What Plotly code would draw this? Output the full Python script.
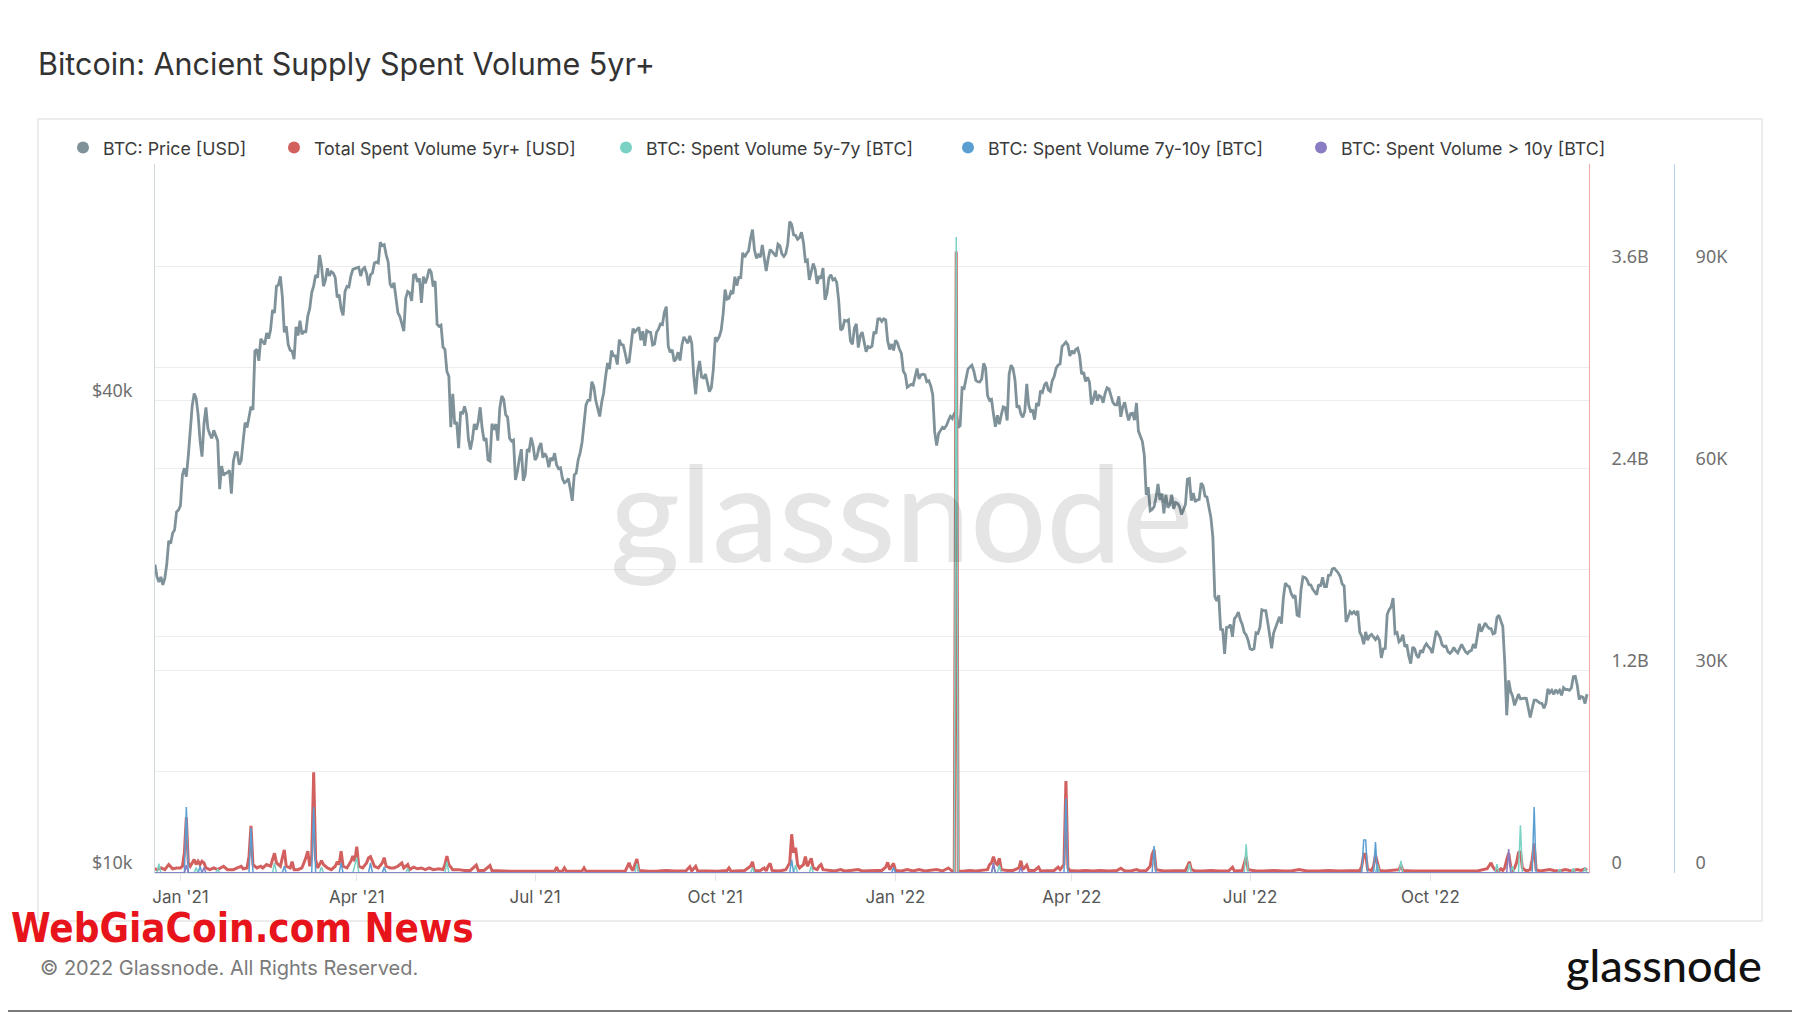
import math
import pandas as pd
import plotly.graph_objects as go

TITLE = "Bitcoin: Ancient Supply Spent Volume 5yr+"
NAMES = ["BTC: Price [USD]", "Total Spent Volume 5yr+ [USD]",
         "BTC: Spent Volume 5y-7y [BTC]", "BTC: Spent Volume 7y-10y [BTC]",
         "BTC: Spent Volume > 10y [BTC]"]
COLORS = ["#7f9299", "#d1605e", "#79d2c4", "#5b9fd2", "#8a7cc2"]

# ---- BTC price, daily, in $k (month lists) ----
PRICE_2020_12 = [23.87, 24.69, 23.85, 23.48, 23.83, 23.28, 23.73, 24.71, 26.49, 26.28, 27.08, 27.36, 28.84, 29.00]
PRICE_2021_01 = [29.37, 32.13, 32.78, 31.97, 33.99, 36.82, 39.37, 40.80, 40.25, 38.35, 35.54, 33.92, 37.32, 39.19, 36.82, 36.18, 35.79, 36.63, 36.07, 35.54, 30.83, 32.99, 32.10, 32.29, 32.37, 32.57, 30.43, 33.47, 34.32, 34.32, 33.11]
PRICE_2021_02 = [33.54, 35.51, 37.47, 36.93, 38.14, 39.27, 38.90, 46.20, 46.48, 44.92, 47.91, 47.50, 47.11, 48.72, 47.94, 49.20, 52.15, 51.68, 55.89, 56.10, 57.53, 54.21, 48.82, 49.71, 47.09, 46.34, 46.19, 45.14]
PRICE_2021_03 = [49.63, 48.38, 50.54, 48.56, 48.93, 48.91, 51.21, 52.38, 54.88, 55.96, 57.77, 57.33, 61.24, 59.30, 55.90, 56.89, 58.91, 57.63, 58.35, 58.09, 57.35, 54.10, 54.53, 52.30, 51.32, 55.03, 55.86, 55.78, 57.63, 58.73, 58.92]
PRICE_2021_04 = [58.99, 59.10, 57.60, 58.76, 59.05, 58.02, 56.01, 57.81, 58.09, 59.85, 60.00, 59.86, 63.58, 62.96, 63.16, 61.33, 60.06, 56.27, 55.70, 56.47, 53.91, 51.70, 51.15, 50.11, 49.00, 54.02, 55.03, 54.82, 53.56, 57.75]
PRICE_2021_05 = [57.83, 56.63, 57.21, 53.24, 57.49, 56.39, 57.36, 58.80, 58.23, 55.86, 56.75, 49.99, 49.71, 49.88, 46.76, 46.45, 43.54, 42.91, 36.98, 40.78, 37.30, 37.53, 34.77, 38.71, 38.40, 39.29, 38.44, 35.70, 34.62, 35.68, 37.33]
PRICE_2021_06 = [36.69, 37.57, 39.19, 36.85, 35.52, 35.80, 33.59, 33.47, 37.35, 36.69, 37.31, 35.55, 39.10, 40.52, 40.14, 38.35, 38.05, 35.79, 35.48, 35.60, 31.68, 32.50, 33.69, 34.66, 31.60, 32.16, 34.65, 34.50, 35.87, 35.04]
PRICE_2021_07 = [33.57, 33.90, 34.84, 35.29, 33.80, 34.23, 33.86, 32.88, 33.81, 33.51, 34.26, 33.09, 32.73, 32.82, 31.78, 31.42, 31.53, 31.80, 30.84, 29.79, 32.14, 32.31, 33.58, 34.29, 35.38, 37.27, 39.46, 40.01, 40.03, 42.24, 41.63]
PRICE_2021_08 = [39.97, 39.20, 38.15, 39.74, 40.87, 42.83, 44.63, 43.83, 46.29, 45.60, 45.58, 44.43, 47.79, 47.10, 47.05, 45.94, 44.69, 44.80, 46.72, 49.34, 48.90, 49.32, 49.55, 47.71, 48.99, 46.94, 49.06, 48.90, 48.83, 47.05, 47.17]
PRICE_2021_09 = [48.85, 49.28, 50.03, 49.94, 51.77, 52.66, 46.86, 46.05, 46.40, 44.85, 45.16, 46.06, 44.96, 47.09, 48.18, 47.78, 47.29, 48.33, 47.26, 43.01, 40.72, 43.58, 44.89, 42.84, 42.72, 43.21, 42.24, 41.03, 41.52, 43.79]
PRICE_2021_10 = [48.12, 47.71, 48.20, 49.11, 51.51, 55.36, 53.81, 53.97, 54.97, 54.66, 57.47, 56.01, 57.37, 57.35, 61.67, 60.88, 61.53, 62.01, 64.28, 66.00, 62.21, 60.69, 61.29, 60.86, 63.08, 60.33, 58.46, 60.62, 62.23, 61.89, 61.32]
PRICE_2021_11 = [61.00, 63.23, 62.94, 61.45, 61.00, 61.53, 63.33, 67.57, 66.97, 64.98, 64.86, 64.16, 64.47, 65.47, 63.56, 60.16, 60.37, 56.94, 58.12, 59.76, 58.73, 56.29, 57.57, 57.16, 58.96, 53.73, 54.72, 57.27, 57.81, 56.95]
PRICE_2021_12 = [57.18, 56.48, 53.60, 49.15, 49.40, 50.58, 50.47, 50.64, 47.59, 47.14, 49.39, 50.05, 46.70, 48.34, 48.86, 47.63, 46.13, 46.83, 46.68, 46.88, 48.93, 48.63, 50.78, 50.82, 50.43, 50.81, 50.64, 47.59, 46.44, 47.18, 46.31]
PRICE_2022_01 = [47.69, 47.34, 46.46, 45.90, 43.57, 43.15, 41.56, 41.73, 41.91, 41.82, 42.74, 43.92, 42.59, 43.10, 43.18, 43.11, 42.25, 42.37, 41.74, 40.68, 36.46, 35.03, 36.28, 36.65, 36.95, 36.85, 37.14, 37.71, 38.17, 37.92, 38.48]
PRICE_2022_02 = [38.74, 36.95, 37.15, 41.50, 41.41, 42.41, 43.84, 44.12, 44.34, 43.57, 42.41, 42.24, 42.20, 42.59, 44.58, 43.96, 40.54, 40.00, 40.12, 38.43, 37.02, 38.29, 37.30, 38.33, 39.23, 39.14, 37.71, 43.19]
PRICE_2022_03 = [44.35, 43.92, 42.45, 39.15, 39.40, 38.42, 38.06, 38.74, 41.98, 39.44, 38.73, 38.81, 37.79, 39.67, 39.34, 41.14, 40.95, 41.80, 42.19, 41.25, 41.08, 42.36, 42.89, 43.96, 44.35, 44.50, 46.82, 47.13, 47.46, 47.06, 45.54]
PRICE_2022_04 = [46.28, 45.86, 46.45, 46.62, 45.56, 43.20, 43.45, 42.29, 42.78, 42.21, 39.52, 40.13, 41.15, 39.94, 40.55, 40.41, 39.72, 40.83, 41.50, 41.37, 40.53, 39.74, 39.48, 39.47, 40.46, 38.12, 39.24, 39.77, 38.61, 37.71]
PRICE_2022_05 = [38.47, 38.53, 37.75, 39.69, 36.55, 36.01, 35.47, 34.06, 30.30, 31.02, 28.94, 29.05, 29.28, 30.10, 31.31, 29.87, 30.42, 28.72, 30.31, 29.20, 29.43, 30.32, 29.10, 29.65, 29.56, 29.27, 28.63, 29.03, 29.47, 31.73, 31.80]
PRICE_2022_06 = [29.80, 30.47, 29.70, 29.86, 29.91, 31.37, 31.13, 30.21, 30.11, 29.08, 28.36, 26.76, 22.49, 22.21, 22.58, 20.38, 20.47, 19.02, 20.55, 20.57, 20.72, 19.99, 21.09, 21.23, 21.50, 21.03, 20.73, 20.25, 20.10, 19.78]
PRICE_2022_07 = [19.30, 19.25, 19.30, 20.23, 20.19, 20.55, 21.64, 21.59, 21.59, 20.86, 19.97, 19.33, 20.21, 20.57, 20.83, 21.20, 20.78, 22.43, 23.40, 23.23, 23.16, 22.68, 22.45, 22.58, 21.31, 21.25, 22.95, 23.84, 23.80, 23.65, 23.30]
PRICE_2022_08 = [23.27, 22.98, 22.82, 22.62, 23.31, 23.18, 23.81, 23.16, 23.16, 23.95, 23.96, 24.40, 24.44, 24.31, 24.11, 23.86, 23.34, 23.21, 20.88, 21.17, 21.53, 21.40, 21.53, 21.37, 21.57, 20.26, 20.04, 19.56, 20.28, 19.80, 20.05]
PRICE_2022_09 = [20.13, 19.95, 19.83, 20.00, 19.80, 18.79, 19.29, 19.32, 21.36, 21.65, 21.83, 22.40, 20.18, 20.24, 19.70, 19.80, 20.11, 19.42, 19.54, 18.88, 18.48, 19.40, 19.30, 18.93, 18.80, 19.22, 19.08, 19.41, 19.59, 19.42]
PRICE_2022_10 = [19.31, 19.06, 19.63, 20.34, 20.16, 19.96, 19.53, 19.42, 19.45, 19.14, 19.05, 19.16, 19.38, 19.18, 19.07, 19.27, 19.55, 19.33, 19.13, 19.04, 19.17, 19.21, 19.57, 19.33, 20.09, 20.77, 20.29, 20.60, 20.81, 20.63, 20.49]
PRICE_2022_11 = [20.48, 20.16, 20.21, 21.15, 21.30, 20.92, 20.60, 18.54, 15.88, 17.59, 17.04, 16.80, 16.35, 16.62, 16.90, 16.66, 16.69, 16.70, 16.69, 16.28, 15.78, 16.20, 16.60, 16.60, 16.52, 16.46, 16.44, 16.21, 16.44, 17.16]
PRICE_2022_12 = [16.97, 17.09, 16.89, 17.11, 16.97, 17.09, 16.84, 17.22, 17.13, 17.13, 17.09, 17.21, 17.78, 17.80, 17.35, 16.63, 16.78, 16.74, 16.44, 16.90]

PRICE_MONTHS = [
    ("2020-12-18", PRICE_2020_12), ("2021-01-01", PRICE_2021_01), ("2021-02-01", PRICE_2021_02),
    ("2021-03-01", PRICE_2021_03), ("2021-04-01", PRICE_2021_04), ("2021-05-01", PRICE_2021_05),
    ("2021-06-01", PRICE_2021_06), ("2021-07-01", PRICE_2021_07), ("2021-08-01", PRICE_2021_08),
    ("2021-09-01", PRICE_2021_09), ("2021-10-01", PRICE_2021_10), ("2021-11-01", PRICE_2021_11),
    ("2021-12-01", PRICE_2021_12), ("2022-01-01", PRICE_2022_01), ("2022-02-01", PRICE_2022_02),
    ("2022-03-01", PRICE_2022_03), ("2022-04-01", PRICE_2022_04), ("2022-05-01", PRICE_2022_05),
    ("2022-06-01", PRICE_2022_06), ("2022-07-01", PRICE_2022_07), ("2022-08-01", PRICE_2022_08),
    ("2022-09-01", PRICE_2022_09), ("2022-10-01", PRICE_2022_10), ("2022-11-01", PRICE_2022_11),
    ("2022-12-01", PRICE_2022_12),
]

# ---- Total spent volume 5yr+ in USD (billions) ----
RED_SPENT_USD_B = [
    ("2020-12-18", 0.03), ("2020-12-20", 0.02), ("2020-12-22", 0.03), ("2020-12-24", 0.02), ("2020-12-26", 0.05),
    ("2020-12-28", 0.025), ("2020-12-30", 0.03), ("2021-01-01", 0.03), ("2021-01-02", 0.04), ("2021-01-03", 0.12),
    ("2021-01-04", 0.33), ("2021-01-05", 0.06), ("2021-01-06", 0.04), ("2021-01-08", 0.08), ("2021-01-09", 0.05),
    ("2021-01-10", 0.07), ("2021-01-11", 0.05), ("2021-01-12", 0.07), ("2021-01-13", 0.06), ("2021-01-14", 0.03),
    ("2021-01-16", 0.02), ("2021-01-18", 0.03), ("2021-01-20", 0.02), ("2021-01-23", 0.04), ("2021-01-25", 0.02),
    ("2021-01-28", 0.02), ("2021-01-30", 0.03), ("2021-02-01", 0.04), ("2021-02-02", 0.025), ("2021-02-04", 0.03),
    ("2021-02-05", 0.10), ("2021-02-06", 0.28), ("2021-02-07", 0.05), ("2021-02-09", 0.03), ("2021-02-11", 0.04),
    ("2021-02-12", 0.03), ("2021-02-14", 0.05), ("2021-02-16", 0.04), ("2021-02-17", 0.08), ("2021-02-18", 0.117),
    ("2021-02-19", 0.06), ("2021-02-21", 0.04), ("2021-02-22", 0.09), ("2021-02-23", 0.137), ("2021-02-24", 0.04),
    ("2021-02-26", 0.03), ("2021-02-27", 0.067), ("2021-02-28", 0.02), ("2021-03-02", 0.02), ("2021-03-04", 0.03),
    ("2021-03-06", 0.09), ("2021-03-07", 0.13), ("2021-03-08", 0.04), ("2021-03-09", 0.10), ("2021-03-10", 0.598),
    ("2021-03-11", 0.08), ("2021-03-12", 0.03), ("2021-03-13", 0.05), ("2021-03-14", 0.073), ("2021-03-15", 0.05),
    ("2021-03-17", 0.03), ("2021-03-19", 0.02), ("2021-03-21", 0.04), ("2021-03-22", 0.067), ("2021-03-23", 0.05),
    ("2021-03-24", 0.13), ("2021-03-25", 0.04), ("2021-03-27", 0.03), ("2021-03-29", 0.07), ("2021-03-30", 0.10),
    ("2021-03-31", 0.07), ("2021-04-01", 0.156), ("2021-04-02", 0.04), ("2021-04-04", 0.03), ("2021-04-06", 0.06),
    ("2021-04-07", 0.09), ("2021-04-08", 0.097), ("2021-04-09", 0.07), ("2021-04-10", 0.04), ("2021-04-12", 0.03),
    ("2021-04-14", 0.06), ("2021-04-15", 0.091), ("2021-04-16", 0.04), ("2021-04-18", 0.03), ("2021-04-20", 0.03),
    ("2021-04-22", 0.04), ("2021-04-24", 0.06), ("2021-04-25", 0.03), ("2021-04-27", 0.05), ("2021-04-28", 0.02),
    ("2021-04-30", 0.035), ("2021-05-02", 0.025), ("2021-05-04", 0.03), ("2021-05-06", 0.02), ("2021-05-08", 0.03),
    ("2021-05-10", 0.02), ("2021-05-13", 0.025), ("2021-05-15", 0.02), ("2021-05-16", 0.05), ("2021-05-17", 0.10),
    ("2021-05-18", 0.05), ("2021-05-20", 0.02), ("2021-05-23", 0.02), ("2021-05-26", 0.015), ("2021-05-29", 0.015),
    ("2021-06-01", 0.047), ("2021-06-02", 0.015), ("2021-06-05", 0.015), ("2021-06-08", 0.044), ("2021-06-09", 0.015),
    ("2021-06-13", 0.012), ("2021-06-18", 0.01), ("2021-06-23", 0.01), ("2021-06-28", 0.01), ("2021-07-03", 0.008),
    ("2021-07-08", 0.01), ("2021-07-11", 0.01), ("2021-07-12", 0.034), ("2021-07-13", 0.01), ("2021-07-15", 0.01),
    ("2021-07-16", 0.03), ("2021-07-17", 0.01), ("2021-07-22", 0.01), ("2021-07-25", 0.012), ("2021-07-26", 0.03),
    ("2021-07-27", 0.01), ("2021-08-02", 0.01), ("2021-08-06", 0.012), ("2021-08-08", 0.01), ("2021-08-16", 0.01),
    ("2021-08-18", 0.06), ("2021-08-19", 0.03), ("2021-08-20", 0.015), ("2021-08-21", 0.05), ("2021-08-22", 0.083),
    ("2021-08-23", 0.015), ("2021-08-28", 0.01), ("2021-09-02", 0.012), ("2021-09-06", 0.015), ("2021-09-10", 0.012),
    ("2021-09-16", 0.012), ("2021-09-18", 0.038), ("2021-09-19", 0.012), ("2021-09-21", 0.04), ("2021-09-22", 0.012),
    ("2021-09-27", 0.012), ("2021-10-02", 0.01), ("2021-10-07", 0.015), ("2021-10-08", 0.03), ("2021-10-09", 0.01),
    ("2021-10-13", 0.012), ("2021-10-16", 0.015), ("2021-10-19", 0.04), ("2021-10-20", 0.067), ("2021-10-21", 0.012),
    ("2021-10-24", 0.015), ("2021-10-26", 0.03), ("2021-10-27", 0.012), ("2021-10-28", 0.04), ("2021-10-29", 0.057),
    ("2021-10-30", 0.015), ("2021-11-02", 0.012), ("2021-11-04", 0.015), ("2021-11-06", 0.02), ("2021-11-08", 0.06),
    ("2021-11-09", 0.23), ("2021-11-10", 0.12), ("2021-11-11", 0.15), ("2021-11-12", 0.05), ("2021-11-13", 0.03),
    ("2021-11-15", 0.05), ("2021-11-16", 0.097), ("2021-11-17", 0.04), ("2021-11-18", 0.06), ("2021-11-19", 0.087),
    ("2021-11-20", 0.03), ("2021-11-22", 0.02), ("2021-11-23", 0.04), ("2021-11-24", 0.05), ("2021-11-25", 0.02),
    ("2021-11-28", 0.015), ("2021-12-01", 0.012), ("2021-12-04", 0.02), ("2021-12-06", 0.012), ("2021-12-09", 0.015),
    ("2021-12-13", 0.02), ("2021-12-15", 0.012), ("2021-12-18", 0.015), ("2021-12-22", 0.015), ("2021-12-25", 0.015),
    ("2021-12-27", 0.035), ("2021-12-28", 0.063), ("2021-12-29", 0.02), ("2021-12-31", 0.057), ("2022-01-01", 0.015),
    ("2022-01-04", 0.012), ("2022-01-07", 0.02), ("2022-01-10", 0.012), ("2022-01-13", 0.02), ("2022-01-16", 0.012),
    ("2022-01-20", 0.015), ("2022-01-22", 0.02), ("2022-01-25", 0.012), ("2022-01-28", 0.03), ("2022-01-30", 0.01),
    ("2022-01-31", 0.01), ("2022-02-01", 3.69), ("2022-02-02", 0.01), ("2022-02-05", 0.012), ("2022-02-08", 0.015),
    ("2022-02-11", 0.012), ("2022-02-14", 0.015), ("2022-02-17", 0.02), ("2022-02-18", 0.05), ("2022-02-19", 0.06),
    ("2022-02-20", 0.097), ("2022-02-21", 0.06), ("2022-02-22", 0.05), ("2022-02-23", 0.087), ("2022-02-24", 0.02),
    ("2022-02-27", 0.015), ("2022-03-02", 0.015), ("2022-03-05", 0.03), ("2022-03-06", 0.073), ("2022-03-07", 0.02),
    ("2022-03-09", 0.047), ("2022-03-10", 0.015), ("2022-03-13", 0.015), ("2022-03-15", 0.035), ("2022-03-16", 0.012),
    ("2022-03-20", 0.012), ("2022-03-23", 0.015), ("2022-03-25", 0.035), ("2022-03-26", 0.02), ("2022-03-28", 0.05),
    ("2022-03-29", 0.546), ("2022-03-30", 0.03), ("2022-03-31", 0.015), ("2022-04-04", 0.012), ("2022-04-08", 0.015),
    ("2022-04-12", 0.012), ("2022-04-15", 0.015), ("2022-04-20", 0.012), ("2022-04-24", 0.015), ("2022-04-26", 0.028),
    ("2022-04-28", 0.012), ("2022-05-01", 0.012), ("2022-05-04", 0.02), ("2022-05-06", 0.012), ("2022-05-09", 0.015),
    ("2022-05-11", 0.04), ("2022-05-12", 0.11), ("2022-05-13", 0.137), ("2022-05-14", 0.02), ("2022-05-18", 0.012),
    ("2022-05-23", 0.012), ("2022-05-29", 0.015), ("2022-05-30", 0.04), ("2022-05-31", 0.067), ("2022-06-01", 0.02),
    ("2022-06-03", 0.012), ("2022-06-07", 0.012), ("2022-06-11", 0.015), ("2022-06-15", 0.012), ("2022-06-20", 0.012),
    ("2022-06-22", 0.034), ("2022-06-23", 0.012), ("2022-06-27", 0.015), ("2022-06-28", 0.05), ("2022-06-29", 0.097),
    ("2022-06-30", 0.02), ("2022-07-04", 0.012), ("2022-07-08", 0.012), ("2022-07-13", 0.015), ("2022-07-18", 0.012),
    ("2022-07-22", 0.012), ("2022-07-26", 0.02), ("2022-07-30", 0.012), ("2022-08-05", 0.012), ("2022-08-10", 0.015),
    ("2022-08-15", 0.012), ("2022-08-23", 0.015), ("2022-08-26", 0.015), ("2022-08-27", 0.04), ("2022-08-28", 0.111),
    ("2022-08-29", 0.111), ("2022-08-30", 0.02), ("2022-09-01", 0.015), ("2022-09-02", 0.04), ("2022-09-03", 0.107),
    ("2022-09-04", 0.05), ("2022-09-05", 0.015), ("2022-09-08", 0.012), ("2022-09-11", 0.015), ("2022-09-15", 0.02),
    ("2022-09-16", 0.047), ("2022-09-17", 0.015), ("2022-09-22", 0.012), ("2022-09-28", 0.012), ("2022-10-04", 0.012),
    ("2022-10-10", 0.012), ("2022-10-14", 0.015), ("2022-10-17", 0.012), ("2022-10-21", 0.015), ("2022-10-25", 0.012),
    ("2022-10-30", 0.025), ("2022-10-31", 0.045), ("2022-11-01", 0.06), ("2022-11-02", 0.035), ("2022-11-03", 0.02),
    ("2022-11-05", 0.012), ("2022-11-06", 0.025), ("2022-11-07", 0.015), ("2022-11-08", 0.03), ("2022-11-09", 0.08),
    ("2022-11-10", 0.117), ("2022-11-11", 0.04), ("2022-11-12", 0.015), ("2022-11-13", 0.03), ("2022-11-14", 0.06),
    ("2022-11-15", 0.12), ("2022-11-16", 0.13), ("2022-11-17", 0.03), ("2022-11-19", 0.012), ("2022-11-21", 0.02),
    ("2022-11-22", 0.08), ("2022-11-23", 0.176), ("2022-11-24", 0.02), ("2022-11-26", 0.012), ("2022-11-29", 0.015),
    ("2022-12-01", 0.02), ("2022-12-03", 0.015), ("2022-12-06", 0.012), ("2022-12-09", 0.02), ("2022-12-12", 0.012),
    ("2022-12-15", 0.02), ("2022-12-17", 0.015), ("2022-12-19", 0.025), ("2022-12-20", 0.015),
]

# ---- Spent volume by age band, in thousand BTC ----
TEAL_5Y_7Y_K = [
    ("2020-12-18", 0), ("2020-12-20", 0), ("2020-12-21", 1.4), ("2020-12-22", 0),
    ("2021-01-08", 0), ("2021-01-09", 0.8), ("2021-01-10", 0), ("2021-01-19", 0), ("2021-01-20", 0.6), ("2021-01-21", 0),
    ("2021-02-17", 0), ("2021-02-18", 1.5), ("2021-02-19", 0), ("2021-03-13", 0), ("2021-03-14", 0.9), ("2021-03-15", 0),
    ("2021-03-30", 0), ("2021-03-31", 1.2), ("2021-04-01", 2.3), ("2021-04-02", 0), ("2021-04-26", 0), ("2021-04-27", 0.7),
    ("2021-04-28", 0), ("2021-05-16", 0), ("2021-05-17", 1.7), ("2021-05-18", 0), ("2021-08-21", 0), ("2021-08-22", 1.4),
    ("2021-08-23", 0), ("2021-10-19", 0), ("2021-10-20", 0.8), ("2021-10-21", 0), ("2021-11-10", 0), ("2021-11-11", 1.2),
    ("2021-11-12", 0), ("2021-11-18", 0), ("2021-11-19", 1.0), ("2021-11-20", 0), ("2022-01-31", 0), ("2022-02-01", 94.4),
    ("2022-02-02", 0), ("2022-02-22", 0), ("2022-02-23", 1.2), ("2022-02-24", 0), ("2022-05-30", 0), ("2022-05-31", 1.4),
    ("2022-06-01", 0), ("2022-06-28", 0), ("2022-06-29", 4.26), ("2022-06-30", 0), ("2022-09-03", 0), ("2022-09-04", 1.3),
    ("2022-09-05", 0), ("2022-09-15", 0), ("2022-09-16", 1.8), ("2022-09-17", 0), ("2022-11-03", 0), ("2022-11-04", 1.3),
    ("2022-11-05", 0), ("2022-11-11", 0), ("2022-11-12", 1.0), ("2022-11-13", 0), ("2022-11-15", 0), ("2022-11-16", 7.1),
    ("2022-11-17", 0), ("2022-12-05", 0), ("2022-12-06", 0.6), ("2022-12-07", 0), ("2022-12-12", 0), ("2022-12-13", 0.7),
    ("2022-12-14", 0), ("2022-12-18", 0), ("2022-12-19", 0.8), ("2022-12-20", 0), ("2022-12-21", 0),
]
BLUE_7Y_10Y_K = [
    ("2020-12-18", 0), ("2021-01-03", 0), ("2021-01-04", 9.8), ("2021-01-05", 0), ("2021-01-10", 0), ("2021-01-11", 1.0),
    ("2021-01-12", 0), ("2021-02-05", 0), ("2021-02-06", 6.7), ("2021-02-07", 0), ("2021-02-22", 0), ("2021-02-23", 1.0),
    ("2021-02-24", 0), ("2021-03-09", 0), ("2021-03-10", 9.8), ("2021-03-11", 0), ("2021-03-23", 0), ("2021-03-24", 1.5),
    ("2021-03-25", 0), ("2021-04-07", 0), ("2021-04-08", 1.5), ("2021-04-09", 0), ("2021-04-14", 0), ("2021-04-15", 0.9),
    ("2021-04-16", 0), ("2021-11-08", 0), ("2021-11-09", 2.0), ("2021-11-10", 0), ("2021-12-30", 0), ("2021-12-31", 0.8),
    ("2022-01-01", 0), ("2022-02-19", 0), ("2022-02-20", 1.2), ("2022-02-21", 0), ("2022-03-28", 0), ("2022-03-29", 11.1),
    ("2022-03-30", 0), ("2022-05-12", 0), ("2022-05-13", 4.0), ("2022-05-14", 0), ("2022-08-27", 0), ("2022-08-28", 4.9),
    ("2022-08-29", 4.9), ("2022-08-30", 0), ("2022-09-02", 0), ("2022-09-03", 4.6), ("2022-09-04", 0), ("2022-11-22", 0),
    ("2022-11-23", 9.8), ("2022-11-24", 0), ("2022-12-21", 0),
]
PURPLE_10Y_K = [
    ("2020-12-18", 0), ("2021-01-03", 0), ("2021-01-04", 1.2), ("2021-01-05", 0), ("2021-01-12", 0), ("2021-01-13", 0.8),
    ("2021-01-14", 0), ("2022-02-19", 0), ("2022-02-20", 1.5), ("2022-02-21", 0), ("2022-03-05", 0), ("2022-03-06", 0.8),
    ("2022-03-07", 0), ("2022-11-09", 0), ("2022-11-10", 3.56), ("2022-11-11", 0), ("2022-12-21", 0),
]

PRICE_TICKS = [10000, 20000, 40000, 80000]
PRICE_TICKTEXT = ["$10k", "", "$40k", ""]
USD_TICKS = [0, 0.6, 1.2, 1.8, 2.4, 3.0, 3.6]
USD_TICKTEXT = ["0", "", "1.2B", "", "2.4B", "", "3.6B"]
BTC_TICKS = [0, 30, 60, 90]
BTC_TICKTEXT = ["0", "30K", "60K", "90K"]

# ---------------- build series ----------------
p_dates, p_vals = [], []
for start, vals in PRICE_MONTHS:
    ds = pd.date_range(start, periods=len(vals), freq="D")
    p_dates += list(ds)
    p_vals += [v * 1000 for v in vals]


def unzip(pairs):
    return [pd.Timestamp(d) for d, _ in pairs], [v for _, v in pairs]


red_x, red_y = unzip(RED_SPENT_USD_B)
teal_x, teal_y = unzip(TEAL_5Y_7Y_K)
blue_x, blue_y = unzip(BLUE_7Y_10Y_K)
purp_x, purp_y = unzip(PURPLE_10Y_K)

# ---------------- layout geometry ----------------
# target positions are given in screen pixels; the page body adds an 8px offset
W, H = 1800, 1013
OFF = 8
PLOT_L, PLOT_R, PLOT_T, PLOT_B = 155, 1589, 164, 873   # screen px of the main plot area
PAPER_R = 1760                                          # screen px of paper right edge
ML = PLOT_L - OFF
MT = PLOT_T - OFF
MR = W - (PAPER_R - OFF)
MB = H - (PLOT_B - OFF)
PW, PH = W - ML - MR, H - MT - MB


def fx(px):
    return (px - OFF - ML) / PW


def fy(py):
    return (H - MB - (py - OFF)) / PH


FONT = "Inter, Noto Sans, sans-serif"
TICKFONT = dict(family="Noto Sans, Inter, sans-serif", size=18, color="#6f6f6f")

fig = go.Figure()

fig.add_trace(go.Scatter(x=p_dates, y=p_vals, mode="lines", yaxis="y",
                         line=dict(color=COLORS[0], width=2.8), showlegend=False, hoverinfo="skip"))
fig.add_trace(go.Scatter(x=red_x, y=red_y, mode="lines", yaxis="y2",
                         line=dict(color=COLORS[1], width=3), showlegend=False, hoverinfo="skip"))
fig.add_trace(go.Scatter(x=teal_x, y=teal_y, mode="lines", yaxis="y3",
                         line=dict(color=COLORS[2], width=1.5), showlegend=False, hoverinfo="skip"))
fig.add_trace(go.Scatter(x=blue_x, y=blue_y, mode="lines", yaxis="y3",
                         line=dict(color=COLORS[3], width=1.5), showlegend=False, hoverinfo="skip"))
fig.add_trace(go.Scatter(x=purp_x, y=purp_y, mode="lines", yaxis="y3",
                         line=dict(color=COLORS[4], width=1.5), showlegend=False, hoverinfo="skip"))

# legend entries (circle markers), one legend per entry for exact spacing
LEGEND_CIRCLE_PX = [86, 297, 629, 971, 1324]
legend_layouts = {}
for i, (name, col) in enumerate(zip(NAMES, COLORS)):
    key = "legend" if i == 0 else f"legend{i + 1}"
    fig.add_trace(go.Scatter(x=[None], y=[None], mode="markers", name=name,
                             marker=dict(color=col, size=12, symbol="circle"),
                             legend=key, showlegend=True))
    legend_layouts[key] = dict(
        x=fx(LEGEND_CIRCLE_PX[i] - 23), y=fy(148), xanchor="left", yanchor="middle",
        orientation="h", bgcolor="rgba(0,0,0,0)", borderwidth=0, itemwidth=30,
        font=dict(family=FONT, size=17.8, color="#3a3a3a"),
    )

x_end = fx(PLOT_R)

fig.update_layout(
    width=W, height=H,
    margin=dict(l=ML, r=MR, t=MT, b=MB, autoexpand=False),
    paper_bgcolor="white", plot_bgcolor="white",
    title=dict(text=TITLE, x=(38 - OFF) / W, xanchor="left", y=1 - (64 - OFF) / H, yanchor="middle",
               xref="container", yref="container",
               font=dict(family=FONT, size=30.5, color="#333333")),
    xaxis=dict(domain=[0, x_end], type="date", range=["2020-12-19", "2022-12-21"],
               tickformat="%b '%y", dtick="M3", tick0="2021-01-01",
               ticks="outside", ticklen=7, tickcolor="#e3e3e3", ticklabelstandoff=2,
               showgrid=False, showline=True, linecolor="#e6e6e6", zeroline=False,
               tickfont=dict(family=FONT, size=17, color="#555555")),
    yaxis=dict(type="log", range=[4, math.log10(80000)], tickvals=PRICE_TICKS, ticktext=PRICE_TICKTEXT,
               showgrid=True, gridcolor="#ededed", showline=True, linecolor="#cfd8dc",
               zeroline=False, ticks="", ticklabelshift=-10, ticklabelstandoff=18,
               tickfont=TICKFONT),
    yaxis2=dict(overlaying="y", side="right", anchor="x", range=[0, 4.21],
                tickvals=USD_TICKS, ticktext=USD_TICKTEXT, showgrid=True, gridcolor="#ededed",
                showline=True, linecolor="#f0a9a9", zeroline=False, ticks="",
                ticklabelshift=-10, ticklabelstandoff=18, tickfont=TICKFONT),
    yaxis3=dict(overlaying="y", side="right", anchor="free", position=fx(1674), range=[0, 105.25],
                tickvals=BTC_TICKS, ticktext=BTC_TICKTEXT, showgrid=False,
                showline=True, linecolor="#b7d2ec", zeroline=False, ticks="",
                ticklabelshift=-10, ticklabelstandoff=17, tickfont=TICKFONT),
    shapes=[
        dict(type="rect", xref="paper", yref="paper", x0=fx(38), x1=fx(1762), y0=fy(921), y1=fy(119),
             line=dict(color="#e6e6e6", width=1.5), fillcolor="rgba(0,0,0,0)", layer="below"),
        dict(type="line", xref="paper", yref="paper", x0=fx(0), x1=fx(1800), y0=fy(1011), y1=fy(1011),
             line=dict(color="#7a7a7a", width=2)),
    ],
    annotations=[
        dict(text="glassnode", xref="paper", yref="paper", x=fx(901), y=fy(510), xanchor="center",
             yanchor="middle", showarrow=False,
             font=dict(family="Lato, Inter, sans-serif", size=134, color="rgba(0,0,0,0.10)", weight=500)),
        dict(text="© 2022 Glassnode. All Rights Reserved.", xref="paper", yref="paper", x=fx(38), y=fy(968),
             xanchor="left", yanchor="middle", showarrow=False,
             font=dict(family=FONT, size=20, color="#7a7a7a")),
        dict(text="glassnode", xref="paper", yref="paper", x=fx(1764), y=fy(965), xanchor="right",
             yanchor="middle", showarrow=False,
             font=dict(family="Lato, Inter, sans-serif", size=45, color="#111111", weight=500)),
        dict(text="<b>WebGiaCoin.com News</b>", xref="paper", yref="paper", x=fx(9), y=fy(928),
             xanchor="left", yanchor="middle", showarrow=False,
             font=dict(family="DejaVu Sans Condensed, Liberation Sans Narrow, DejaVu Sans", size=40,
                       color="#e8141c")),
    ],
    **legend_layouts,
)

fig.write_html("out.html")
